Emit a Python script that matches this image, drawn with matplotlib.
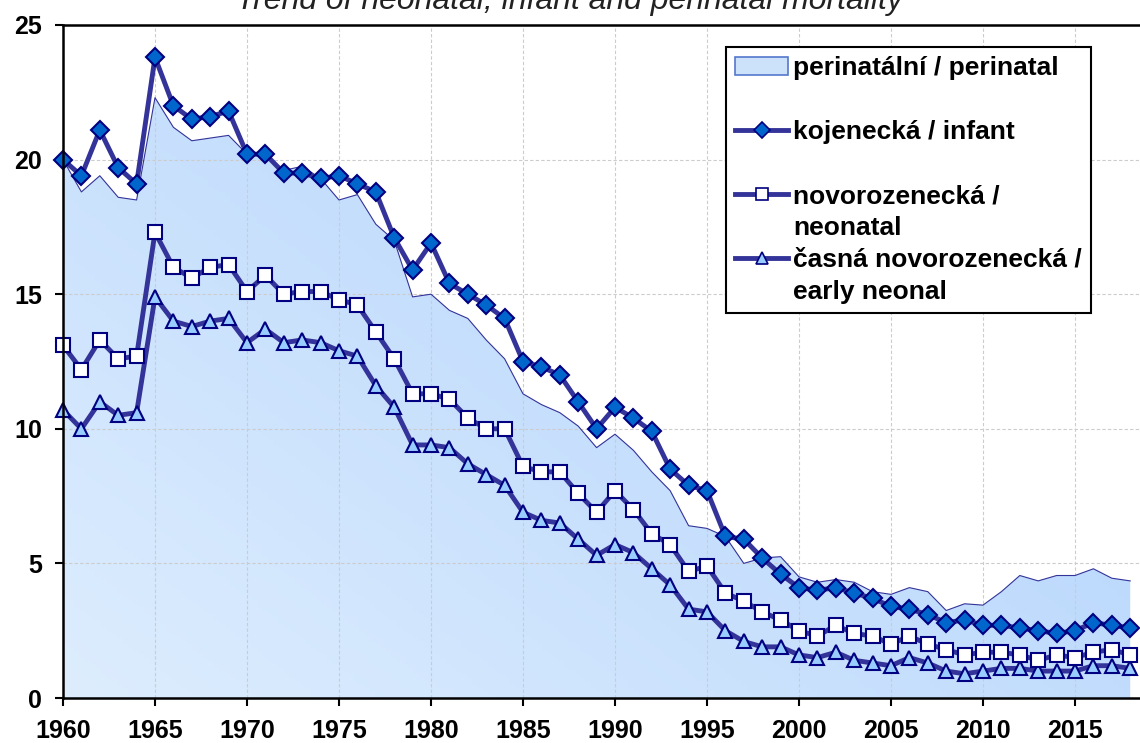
import numpy as np
import matplotlib
matplotlib.use("Agg")
import matplotlib.pyplot as plt
from matplotlib.lines import Line2D
from matplotlib.patches import Patch
from matplotlib.colors import LinearSegmentedColormap

plt.rcParams['font.family'] = ['Liberation Sans', 'DejaVu Sans']

# data (per 1000)
years = list(range(1960, 2019))
infant = [20.0, 19.4, 21.1, 19.7, 19.1, 23.8, 22.0, 21.5, 21.6, 21.8,
          20.2, 20.2, 19.5, 19.5, 19.3, 19.4, 19.1, 18.8, 17.1, 15.9,
          16.9, 15.4, 15.0, 14.6, 14.1, 12.5, 12.3, 12.0, 11.0, 10.0,
          10.8, 10.4, 9.9, 8.5, 7.9, 7.7, 6.0, 5.9, 5.2, 4.6,
          4.1, 4.0, 4.1, 3.9, 3.7, 3.4, 3.3, 3.1, 2.8, 2.9,
          2.7, 2.7, 2.6, 2.5, 2.4, 2.5, 2.8, 2.7, 2.6]
neonatal = [13.1, 12.2, 13.3, 12.6, 12.7, 17.3, 16.0, 15.6, 16.0, 16.1,
            15.1, 15.7, 15.0, 15.1, 15.1, 14.8, 14.6, 13.6, 12.6, 11.3,
            11.3, 11.1, 10.4, 10.0, 10.0, 8.6, 8.4, 8.4, 7.6, 6.9,
            7.7, 7.0, 6.1, 5.7, 4.7, 4.9, 3.9, 3.6, 3.2, 2.9,
            2.5, 2.3, 2.7, 2.4, 2.3, 2.0, 2.3, 2.0, 1.8, 1.6,
            1.7, 1.7, 1.6, 1.4, 1.6, 1.5, 1.7, 1.8, 1.6]
early_neonatal = [10.7, 10.0, 11.0, 10.5, 10.6, 14.9, 14.0, 13.8, 14.0, 14.1,
                  13.2, 13.7, 13.2, 13.3, 13.2, 12.9, 12.7, 11.6, 10.8, 9.4,
                  9.4, 9.3, 8.7, 8.3, 7.9, 6.9, 6.6, 6.5, 5.9, 5.3,
                  5.7, 5.4, 4.8, 4.2, 3.3, 3.2, 2.5, 2.1, 1.9, 1.9,
                  1.6, 1.5, 1.7, 1.4, 1.3, 1.2, 1.5, 1.3, 1.0, 0.9,
                  1.0, 1.1, 1.1, 1.0, 1.0, 1.0, 1.2, 1.2, 1.1]
perinatal = [20.0, 18.8, 19.4, 18.6, 18.5, 22.3, 21.2, 20.7, 20.8, 20.9,
             20.2, 20.2, 19.6, 19.75, 19.3, 18.5, 18.7, 17.6, 17.0, 14.9,
             15.0, 14.4, 14.1, 13.3, 12.6, 11.3, 10.9, 10.6, 10.1, 9.3,
             9.8, 9.2, 8.4, 7.7, 6.4, 6.3, 6.0, 5.0, 5.2, 5.25,
             4.5, 4.3, 4.4, 4.3, 3.95, 3.85, 4.1, 3.95, 3.25, 3.5,
             3.45, 3.95, 4.55, 4.35, 4.55, 4.55, 4.8, 4.45, 4.35]

labels = ["perinatální / perinatal", "kojenecká / infant",
          "novorozenecká /", "neonatal", "časná novorozenecká /", "early neonal"]
title = "Trend of neonatal, infant and perinatal mortality"

navy = '#333399'
edge = '#000080'

fig = plt.figure(figsize=(11.4, 7.43), dpi=100)
ax = fig.add_axes([63 / 1140, 45 / 743, 1077 / 1140, 673 / 743])
xmax = 1960 + (1140 - 63) / 18.4
ax.set_xlim(1960, xmax)
ax.set_ylim(0, 25)

# gradient filled perinatal area
fill = ax.fill_between(years, perinatal, 0, color='none', zorder=1)
xx, yy = np.meshgrid(np.linspace(0, 1, 200), np.linspace(0, 1, 200))
grad = 0.55 * xx + 0.45 * yy
cmap = LinearSegmentedColormap.from_list('blu', ['#ddedfe', '#aacefb'])
im = ax.imshow(grad, extent=[1960, xmax, 0, 25], origin='lower', aspect='auto',
               cmap=cmap, vmin=0, vmax=1, zorder=1)
im.set_clip_path(fill.get_paths()[0], transform=ax.transData)
ax.plot(years, perinatal, color=navy, lw=0.8, zorder=2)

ax.plot(years, infant, color=navy, lw=3.5, marker='D', ms=9,
        mfc='#0066cc', mec=edge, mew=1.5, zorder=5, clip_on=False)
ax.plot(years, neonatal, color=navy, lw=3.5, marker='s', ms=10,
        mfc='white', mec=edge, mew=1.5, zorder=4, clip_on=False)
ax.plot(years, early_neonatal, color=navy, lw=3.5, marker='^', ms=10.5,
        mfc='#99ccff', mec=edge, mew=1.5, zorder=3, clip_on=False)

ax.set_xticks(range(1960, 2016, 5))
ax.set_yticks(range(0, 26, 5))
ax.grid(True, color='#cccccc', ls=(0, (3, 2)), lw=0.8)
for gl in ax.get_xgridlines() + ax.get_ygridlines():
    gl.set_zorder(0.5)
ax.tick_params(direction='out', length=6, width=1.5, pad=9, labelsize=18)
for lab in ax.get_xticklabels() + ax.get_yticklabels():
    lab.set_fontweight('bold')
for s in ['left', 'bottom', 'top']:
    ax.spines[s].set_linewidth(1.8)
    ax.spines[s].set_zorder(6)
ax.spines['right'].set_visible(False)

# legend: blank rows keep the spacing of the original
blank = Line2D([], [], color='none')
handles = [Patch(facecolor='#cce2fb', edgecolor='#5577cc', lw=1.2), blank,
           Line2D([], [], color=navy, lw=3.5, marker='D', ms=8, mfc='#0066cc', mec=edge, mew=1.2), blank,
           Line2D([], [], color=navy, lw=3.5, marker='s', ms=9, mfc='white', mec=edge, mew=1.2), blank,
           Line2D([], [], color=navy, lw=3.5, marker='^', ms=9, mfc='#99ccff', mec=edge, mew=1.2), blank]
texts = [labels[0], " ", labels[1], " ", labels[2], labels[3], labels[4], labels[5]]
leg = ax.legend(handles, texts, loc='upper left', bbox_to_anchor=(0.6156, 0.967),
                borderaxespad=0, prop={'weight': 'bold', 'size': 19},
                handlelength=2.0, handletextpad=0.2, labelspacing=0.3,
                borderpad=0.35, fancybox=False, framealpha=1, edgecolor='black')
leg.get_frame().set_linewidth(1.5)
leg.set_zorder(10)

fig.text(569 / 1140, 1 - 9 / 743, title, ha='center', va='baseline',
         fontsize=23, style='italic', color='#222222')

fig.savefig('out.png', dpi=100)
